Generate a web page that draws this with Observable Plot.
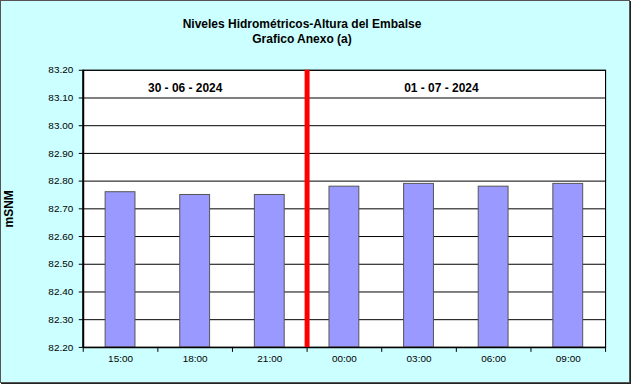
<!DOCTYPE html>
<html>
<head>
<meta charset="utf-8">
<script src="https://cdn.jsdelivr.net/npm/d3@7"></script>
<script src="https://cdn.jsdelivr.net/npm/@observablehq/plot@0.6"></script>
<style>
  html, body { margin: 0; padding: 0; background: #ffffff; }
  #chart {
    position: absolute; left: 0; top: 0;
    width: 630px; height: 383px; box-sizing: border-box;
    background: #ccffff; border: 1px solid #555;
    box-shadow: 1px 1px 0 #222;
    font-family: "Liberation Sans", Arial, sans-serif;
  }
  #title {
    position: absolute; left: 0; top: 16px; width: 602px;
    text-align: center; font-weight: bold; font-size: 12px; line-height: 15px; color: #000;
  }
  #plot { position: absolute; left: -1px; top: -1px; }
  #plot svg [aria-label="y-axis label"] text { font-weight: bold; font-size: 12px; }
</style>
</head>
<body>
<div id="chart">
  <div id="title"><div>Niveles Hidrométricos-Altura del Embalse</div><div>Grafico Anexo (a)</div></div>
  <div id="plot"></div>
</div>
<script>
// ---- data ----
const categories = ["15:00", "18:00", "21:00", "00:00", "03:00", "06:00", "09:00"];
const levels = [82.76, 82.75, 82.75, 82.78, 82.79, 82.78, 82.79];
const dayOfCategory = [0, 0, 0, 1, 1, 1, 1];
const dayLabels = ["30 - 06 - 2024", "01 - 07 - 2024"];
const yTickValues = [82.20, 82.30, 82.40, 82.50, 82.60, 82.70, 82.80, 82.90, 83.00, 83.10, 83.20];

// ---- derived ----
const n = categories.length;
const rows = categories.map((c, i) => ({cat: c, i, value: levels[i]}));
const yMin = d3.min(yTickValues), yMax = d3.max(yTickValues);
const boundaries = d3.range(0, n + 1);
const centers = d3.range(n).map(i => i + 0.5);
const splitIndex = dayOfCategory.findIndex((d, i) => i > 0 && d !== dayOfCategory[i - 1]);
const dayCenters = dayLabels.map((lab, k) => {
  const idx = dayOfCategory.map((d, i) => d === k ? i : -1).filter(i => i >= 0);
  return {label: lab, x: (d3.min(idx) + d3.max(idx) + 1) / 2};
});
const pad = 0.3;

const plot = Plot.plot({
  width: 631,
  height: 384,
  marginTop: 70,
  marginBottom: 36,
  marginLeft: 83,
  marginRight: 24,
  style: {background: "transparent", fontFamily: "'Liberation Sans', Arial, sans-serif", fontSize: "10px", color: "#000"},
  x: {type: "linear", domain: [0, n]},
  y: {domain: [yMin, yMax]},
  marks: [
    Plot.frame({fill: "#ffffff", stroke: "#000"}),
    Plot.ruleY(yTickValues, {stroke: "#000", strokeWidth: 1}),
    Plot.rectY(rows, {x1: d => d.i + pad, x2: d => d.i + 1 - pad, y1: yMin, y2: "value",
      fill: "#9999ff", stroke: "#555", strokeWidth: 1}),
    Plot.ruleX([0], {stroke: "#000", strokeWidth: 2}),
    Plot.ruleX([n], {stroke: "#000", strokeWidth: 1}),
    Plot.ruleY([yMin], {stroke: "#000", strokeWidth: 1.5}),
    Plot.ruleX([splitIndex], {stroke: "#ff0000", strokeWidth: 5}),
    Plot.axisX({ticks: boundaries, tickFormat: () => "", tickSize: 5, stroke: "#000", label: null}),
    Plot.axisX({ticks: centers, tickFormat: d => categories[Math.floor(d)], tickSize: 0, tickPadding: 8, label: null}),
    Plot.axisY({ticks: yTickValues, tickFormat: d => d.toFixed(2), tickSize: 4, tickPadding: 6,
      label: "mSNM", labelAnchor: "center", labelOffset: 79, labelArrow: "none"}),
    Plot.text([dayCenters[0]], {x: "x", text: "label", frameAnchor: "top", dy: 13, dx: -10,
      fontWeight: "bold", fontSize: 12, fill: "#000"}),
    Plot.text([dayCenters[1]], {x: "x", text: "label", frameAnchor: "top", dy: 13, dx: -15,
      fontWeight: "bold", fontSize: 12, fill: "#000"})
  ]
});
document.getElementById("plot").appendChild(plot);
</script>
</body>
</html>
